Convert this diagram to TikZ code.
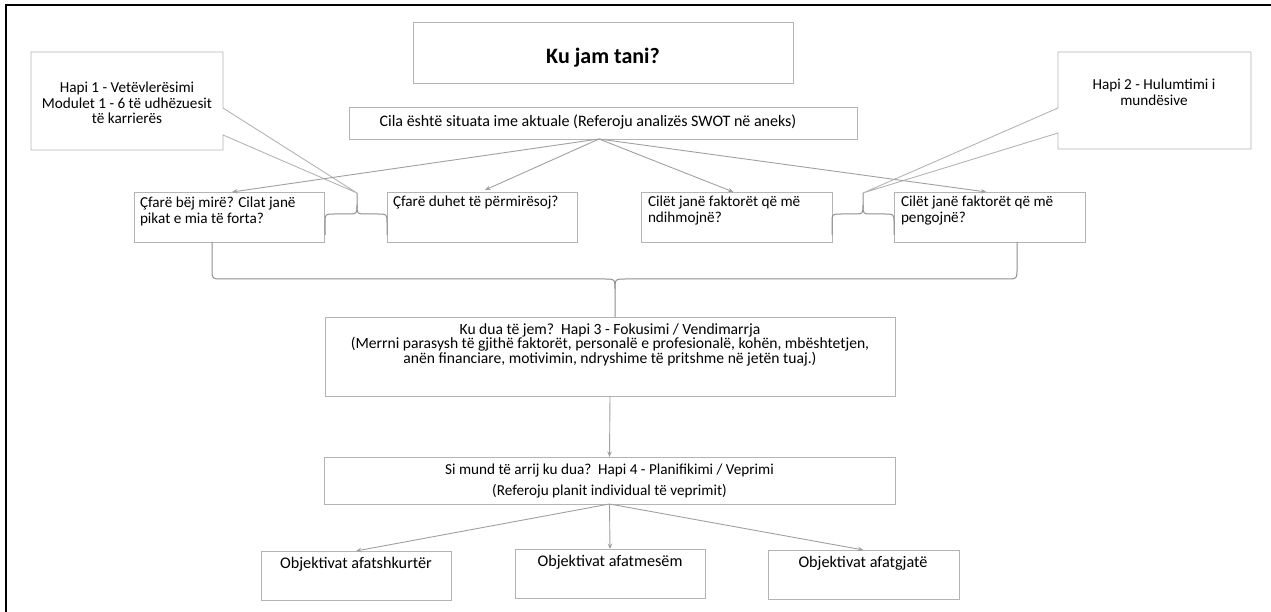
\documentclass[tikz,border=0pt]{standalone}
\usepackage{fontspec}
\setmainfont{Carlito}
\usetikzlibrary{arrows.meta,calc}
\definecolor{boxgray}{HTML}{B4B4B4}
\definecolor{arrgray}{HTML}{A0A0A0}
\definecolor{bracegray}{HTML}{8E8E8E}
\begin{document}
\begin{tikzpicture}[x=1pt,y=-1pt,
  box/.style={draw=boxgray,line width=0.9pt,fill=white,inner sep=0pt,outer sep=0pt},
  txt/.style={inner sep=0pt,outer sep=0pt,text=black},
  arr/.style={draw=arrgray,line width=0.9pt,-{Stealth[length=5.5pt,width=4.5pt]}},
  bracestyle/.style={draw=bracegray,line width=1pt},
  framestyle/.style={draw=black,line width=1.6pt}]
\useasboundingbox (0,0) rectangle (1271,612);
\draw[framestyle] (6,612) -- (6,5) -- (1271,5);

% boxes
\node[box,minimum width=380pt,minimum height=61pt] (title) at (603,52.5) {};
\node[box,minimum width=508pt,minimum height=32pt] (cila) at (603,123) {};
\node[box,minimum width=190pt,minimum height=50pt] (b1) at (229,217) {};
\node[box,minimum width=190pt,minimum height=50pt] (b2) at (482,217) {};
\node[box,minimum width=191pt,minimum height=50pt] (b3) at (736.5,217) {};
\node[box,minimum width=191pt,minimum height=50pt] (b4) at (989.5,217) {};
\node[box,minimum width=570pt,minimum height=79pt] (kudua) at (610,356.5) {};
\node[box,minimum width=571pt,minimum height=47pt] (simund) at (609.5,480.5) {};
\node[box,minimum width=190pt,minimum height=49pt] (o1) at (356,575.5) {};
\node[box,minimum width=190pt,minimum height=49pt] (o2) at (610,573.5) {};
\node[box,minimum width=191pt,minimum height=49pt] (o3) at (863.5,574.5) {};

% callout tips
\coordinate (t1) at (357,193);
\coordinate (t2) at (863,193);
\draw[box] (31,52) -- (223,52) -- (223,108) -- (t1) -- (223,135) -- (223,150) -- (31,150) -- cycle;
\draw[box] (1058,52) -- (1251,52) -- (1251,149) -- (1058,149) -- (1058,133) -- (t2) -- (1058,108) -- cycle;

% texts
\node[txt,font=\fontsize{22}{25}\selectfont\bfseries] (titlet) at (603,58) {Ku jam tani?};
\node[txt,font=\fontsize{16}{18}\selectfont] (cilat) at (588,122) {Cila është situata ime aktuale (Referoju analizës SWOT në aneks)};
\node[txt,align=center,font=\fontsize{15.2}{15.5}\selectfont] (h1t) at (127,103) {Hapi 1 - Vetëvlerësimi\\Modulet 1 - 6 të udhëzuesit\\të karrierës};
\node[txt,align=center,font=\fontsize{15.2}{15.5}\selectfont] (h2t) at (1154,92.5) {Hapi 2 - Hulumtimi i\\mundësive};
\node[txt,align=left,anchor=west,font=\fontsize{15.2}{16}\selectfont] (b1t) at (140,211) {Çfarë bëj mirë? Cilat janë\\pikat e mia të forta?};
\node[txt,align=left,anchor=west,font=\fontsize{15.2}{16}\selectfont] (b2t) at (393,203) {Çfarë duhet të përmirësoj?};
\node[txt,align=left,anchor=west,font=\fontsize{15.2}{16}\selectfont] (b3t) at (648,211) {Cilët janë faktorët që më\\ndihmojnë?};
\node[txt,align=left,anchor=west,font=\fontsize{15.2}{16}\selectfont] (b4t) at (901,211) {Cilët janë faktorët që më\\pengojnë?};
\node[txt,align=center,font=\fontsize{15.6}{14.5}\selectfont] (kuduat) at (610,344.5) {Ku dua të jem?\ \ Hapi 3 - Fokusimi / Vendimarrja\\(Merrni parasysh të gjithë faktorët, personalë e profesionalë, kohën, mbështetjen,\\anën financiare, motivimin, ndryshime të pritshme në jetën tuaj.)};
\node[txt,align=center,font=\fontsize{15.2}{21}\selectfont] (simundt) at (609.5,481) {Si mund të arrij ku dua?\ \ Hapi 4 - Planifikimi / Veprimi\\(Referoju planit individual të veprimit)};
\node[txt,font=\fontsize{16.2}{18}\selectfont] (o1t) at (356,564) {Objektivat afatshkurtër};
\node[txt,font=\fontsize{16.2}{18}\selectfont] (o2t) at (610,562) {Objektivat afatmesëm};
\node[txt,font=\fontsize{16.2}{18}\selectfont] (o3t) at (863,563) {Objektivat afatgjatë};

% arrows
\coordinate (cilaout) at ($(cila.south)+(-4,0)$);
\draw[arr] (cilaout) -- ($(b1.north)+(3,0)$);
\draw[arr] (cilaout) -- ($(b2.north)+(3,-2)$);
\draw[arr] (cilaout) -- ($(b3.north)+(-3,0)$);
\draw[arr] (cilaout) -- ($(b4.north)+(-3,0)$);
\draw[arr] (kudua.south) -- (simund.north);
\draw[arr] (simund.south) -- (o1.north);
\draw[arr] (simund.south) -- (o2.north);
\draw[arr] (simund.south) -- (o3.north);

% braces
\draw[bracestyle] (325,235) -- (325,223) .. controls (325,214) .. (334,214) -- (348,214) .. controls (357,214) .. (357,205) -- (t1);
\draw[bracestyle] (357,205) .. controls (357,214) .. (366,214) -- (378,214) .. controls (387,214) .. (387,223) -- (387,235);
\draw[bracestyle] (832,235) -- (832,223) .. controls (832,214) .. (841,214) -- (854,214) .. controls (863,214) .. (863,205) -- (t2);
\draw[bracestyle] (863,205) .. controls (863,214) .. (872,214) -- (885,214) .. controls (894,214) .. (894,223) -- (894,235);
\coordinate (bigtip) at ($(kudua.north)+(5,0)$);
\draw[bracestyle] (212,242) -- (212,269) .. controls (212,279) .. (222,279) -- (605,279) .. controls (615,279) .. (615,289) -- (bigtip);
\draw[bracestyle] (615,289) .. controls (615,279) .. (625,279) -- (1007,279) .. controls (1017,279) .. (1017,269) -- (1017,242);
\end{tikzpicture}
\end{document}
